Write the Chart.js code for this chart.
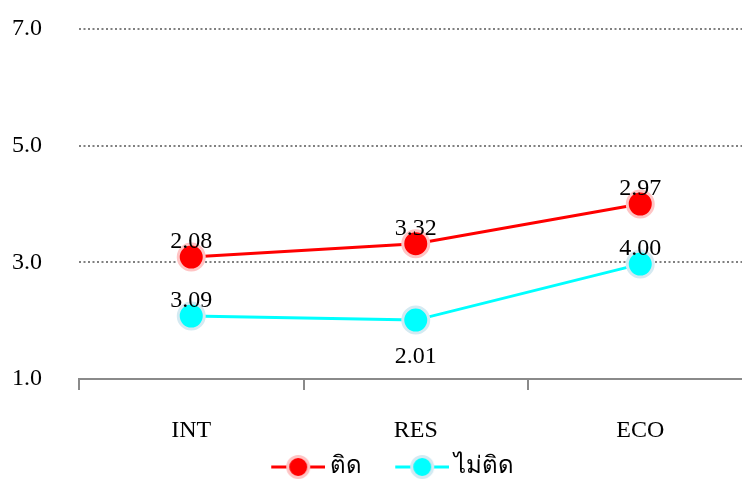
<!DOCTYPE html>
<html>
<head>
<meta charset="utf-8">
<script src="https://cdn.jsdelivr.net/npm/chart.js@4.4.1/dist/chart.umd.min.js"></script>
<style>
  html, body { margin: 0; padding: 0; background: #fff; overflow: hidden; }
  #wrap { width: 784px; height: 482px; }
</style>
</head>
<body>
<div id="wrap"><canvas id="lineChart" width="784" height="482"></canvas></div>
<script>
const categories = ['INT', 'RES', 'ECO'];
const seriesNames = ['ติด', 'ไม่ติด'];
const valuesTid = [3.09, 3.32, 4.00];
const valuesMaiTid = [2.08, 2.01, 2.97];
// the label texts as printed in the picture (not always the point's own value)
const labelsTid = ['2.08', '3.32', '2.97'];
const labelsMaiTid = ['3.09', '2.01', '4.00'];
const labelBelowTid = [false, false, false];
const labelBelowMaiTid = [false, true, false];
const yTicks = [1, 3, 5, 7];

const FONT = "'Liberation Serif', 'Times New Roman', serif";
const colors = ['#ff0000', '#00ffff'];
const rings = ['#ffc4c4', '#d4eaf2'];

// legend marker: line with a dot, drawn on the right part of a wider transparent canvas
function legendIcon(color, ring) {
    const c = document.createElement('canvas');
    c.width = 84;
    c.height = 28;
    const g = c.getContext('2d');
    const x0 = 30;
    g.strokeStyle = color;
    g.lineWidth = 3;
    g.beginPath();
    g.moveTo(x0, 14);
    g.lineTo(x0 + 54, 14);
    g.stroke();
    g.beginPath();
    g.arc(x0 + 27, 14, 10.5, 0, Math.PI * 2);
    g.fillStyle = color;
    g.fill();
    g.lineWidth = 3;
    g.strokeStyle = ring;
    g.stroke();
    return c;
}
const icons = [legendIcon(colors[0], rings[0]), legendIcon(colors[1], rings[1])];

const pointLabels = {
    id: 'pointLabels',
    afterDatasetsDraw(chart) {
        const ctx = chart.ctx;
        const texts = [labelsTid, labelsMaiTid];
        const below = [labelBelowTid, labelBelowMaiTid];
        ctx.save();
        ctx.font = '24px ' + FONT;
        ctx.fillStyle = '#000';
        ctx.textAlign = 'center';
        ctx.textBaseline = 'alphabetic';
        chart.data.datasets.forEach((ds, di) => {
            chart.getDatasetMeta(di).data.forEach((pt, i) => {
                const y = below[di][i] ? pt.y + 43 : pt.y - 9;
                ctx.fillText(texts[di][i], pt.x, y);
            });
        });
        ctx.restore();
    }
};

new Chart(document.getElementById('lineChart').getContext('2d'), {
    type: 'line',
    data: {
        labels: categories,
        datasets: [
            {
                label: seriesNames[0],
                data: valuesTid,
                borderColor: colors[0],
                backgroundColor: colors[0],
                borderWidth: 3,
                pointRadius: 13,
                pointHoverRadius: 13,
                pointBorderWidth: 3,
                pointBorderColor: rings[0],
                pointBackgroundColor: colors[0]
            },
            {
                label: seriesNames[1],
                data: valuesMaiTid,
                borderColor: colors[1],
                backgroundColor: colors[1],
                borderWidth: 3,
                pointRadius: 13,
                pointHoverRadius: 13,
                pointBorderWidth: 3,
                pointBorderColor: rings[1],
                pointBackgroundColor: colors[1]
            }
        ]
    },
    options: {
        responsive: false,
        animation: false,
        layout: { padding: { top: 29, right: 31.5, bottom: -7, left: 10 } },
        scales: {
            x: {
                offset: true,
                afterFit(scale) {
                    scale.height = 66;
                },
                grid: {
                    offset: true,
                    drawOnChartArea: false,
                    drawTicks: true,
                    tickLength: 11,
                    color: '#8a8a8a',
                    lineWidth: 2
                },
                border: { display: true, color: '#8a8a8a', width: 2 },
                ticks: {
                    color: '#000',
                    padding: 26,
                    font: { family: FONT, size: 24 }
                }
            },
            y: {
                min: 1,
                max: 7,
                afterBuildTicks(scale) {
                    scale.ticks = yTicks.map(v => ({ value: v }));
                },
                afterFit(scale) {
                    scale.width = 69;
                },
                grid: {
                    drawTicks: true,
                    tickLength: 37,
                    tickColor: 'rgba(0,0,0,0)',
                    color: ctx => ctx.tick && ctx.tick.value === 1 ? 'rgba(0,0,0,0)' : '#808080',
                    lineWidth: 2
                },
                border: { display: false, dash: [2, 2.5] },
                ticks: {
                    color: '#000',
                    padding: 0,
                    font: { family: FONT, size: 24 },
                    callback: v => Number(v).toFixed(1)
                }
            }
        },
        plugins: {
            tooltip: { enabled: false },
            legend: {
                position: 'bottom',
                labels: {
                    usePointStyle: true,
                    pointStyleWidth: 70,
                    padding: 10,
                    color: '#000',
                    font: { family: FONT, size: 24 },
                    generateLabels(chart) {
                        const items = Chart.defaults.plugins.legend.labels.generateLabels(chart);
                        items.forEach((it, i) => { it.pointStyle = icons[i]; });
                        return items;
                    }
                }
            }
        }
    },
    plugins: [pointLabels]
});
</script>
</body>
</html>
